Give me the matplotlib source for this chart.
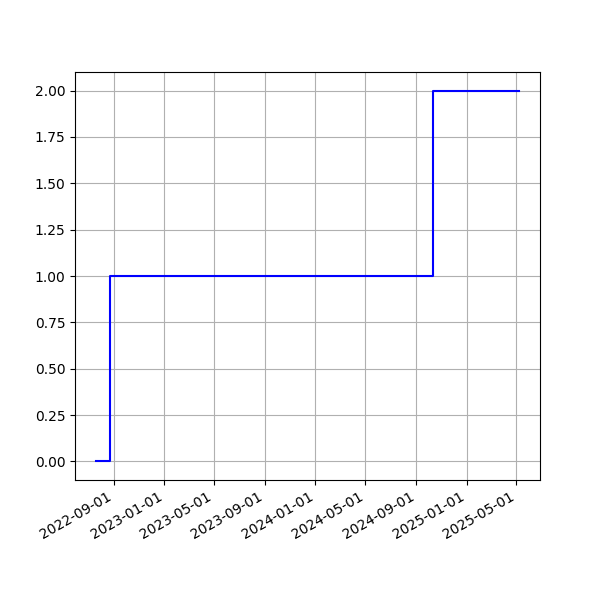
import matplotlib
matplotlib.use("Agg")
import matplotlib.pyplot as plt
import matplotlib.dates as mdates
import numpy as np

dates = np.array(['2022-07-20', '2022-08-22', '2024-10-12', '2025-05-07'], dtype='datetime64[D]')
counts = [0, 1, 2, 2]

fig, ax = plt.subplots(figsize=(6, 6), dpi=100)
ax.step(dates, counts, where='post', color='blue')
ax.grid(True)
ax.xaxis.set_major_formatter(mdates.DateFormatter('%Y-%m-%d'))
fig.autofmt_xdate()
fig.savefig('out.png')
